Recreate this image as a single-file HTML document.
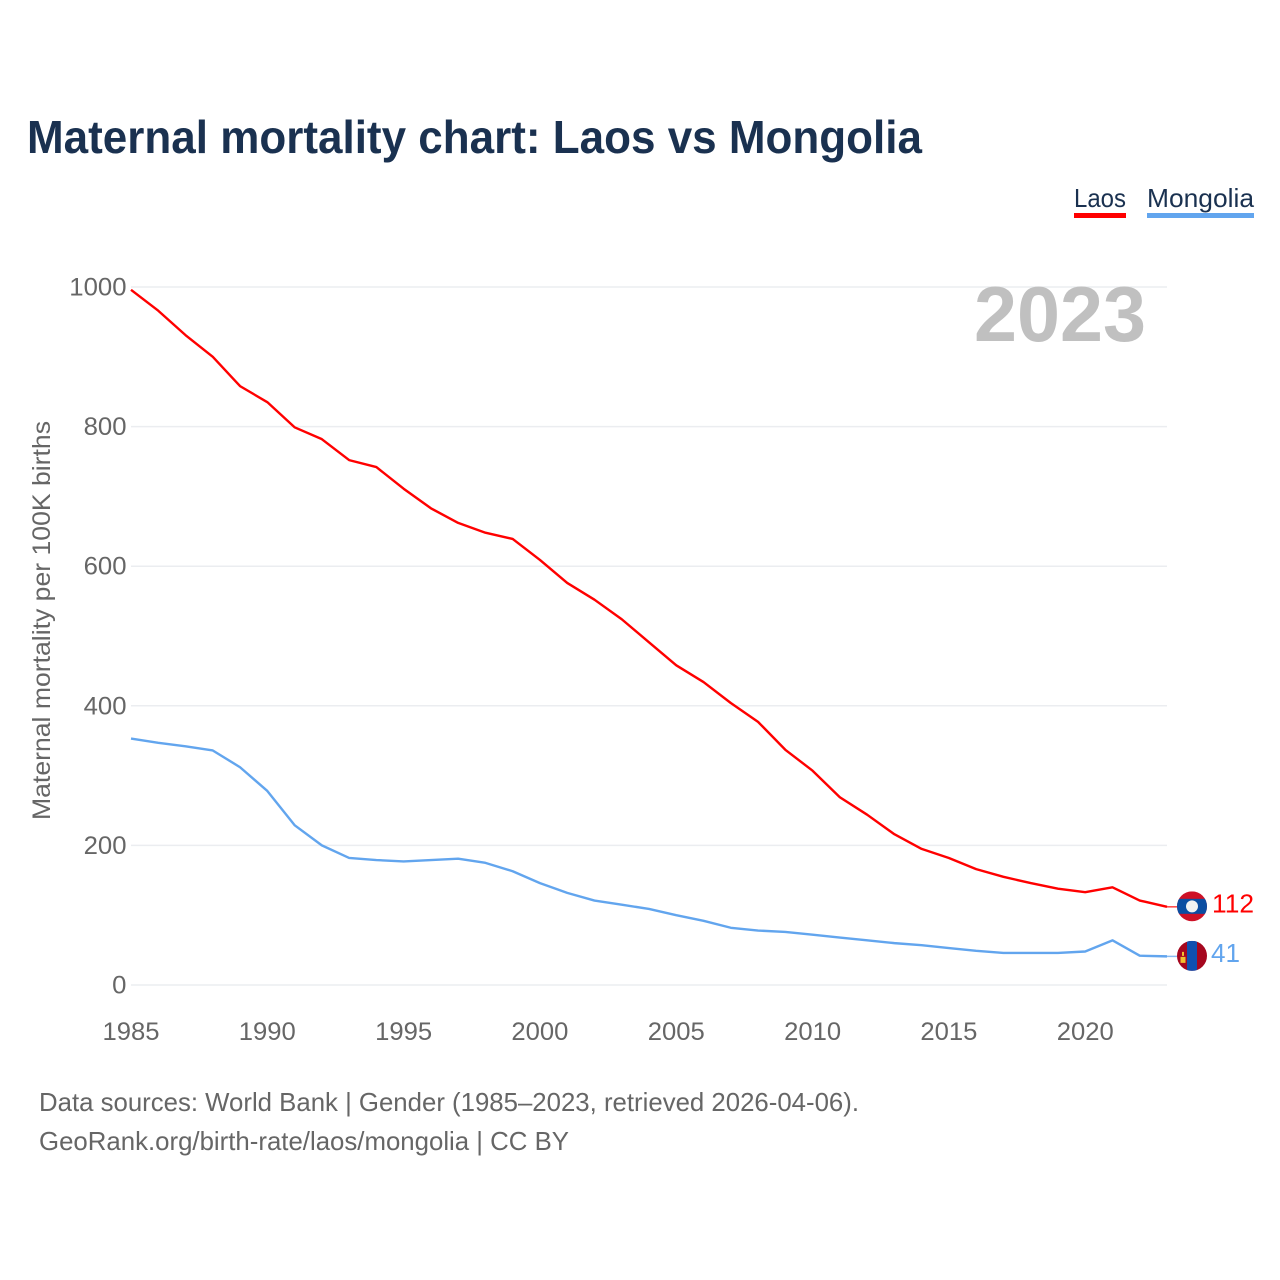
<!DOCTYPE html>
<html lang="en">
<head>
<meta charset="utf-8">
<title>Maternal mortality chart: Laos vs Mongolia</title>
<style>
html,body{margin:0;padding:0;background:#fff;width:1280px;height:1280px;overflow:hidden}
svg{display:block}
text{font-family:"Liberation Sans",sans-serif}
</style>
</head>
<body>
<svg id="chart" width="1280" height="1280" viewBox="0 0 1280 1280" xmlns="http://www.w3.org/2000/svg">
  <rect width="1280" height="1280" fill="#ffffff"/>
  <text x="27" y="153" font-size="46" font-weight="700" fill="#1a3150" textLength="895" lengthAdjust="spacingAndGlyphs">Maternal mortality chart: Laos vs Mongolia</text>

  <g>
    <g>
      <text x="1074" y="207" font-size="26" fill="#1a3150" textLength="52" lengthAdjust="spacingAndGlyphs">Laos</text>
      <rect x="1074" y="213" width="52" height="5" fill="#ff0000"/>
    </g>
    <g>
      <text x="1147" y="207" font-size="26" fill="#1a3150" textLength="107" lengthAdjust="spacingAndGlyphs">Mongolia</text>
      <rect x="1147" y="213" width="107" height="5" fill="#62a5ee"/>
    </g>
  </g>

  <g id="grid"></g>
  <g id="y-ticks"></g>
  <g id="x-ticks"></g>

  <text transform="translate(50,820) rotate(-90)" x="0" y="0" font-size="25" fill="#666666" textLength="399" lengthAdjust="spacingAndGlyphs">Maternal mortality per 100K births</text>

  <text x="974" y="341" font-size="78" font-weight="700" fill="#c0c0c0" textLength="172" lengthAdjust="spacingAndGlyphs">2023</text>

  <g id="series"></g>

  <defs>
    <clipPath id="laos-clip"><circle id="laos-clip-circle" r="15"/></clipPath>
    <clipPath id="mongolia-clip"><circle id="mongolia-clip-circle" r="15"/></clipPath>
  </defs>

  <g id="flag-laos" clip-path="url(#laos-clip)">
    <rect x="-15" y="-15" width="30" height="30" fill="#ce1126"/>
    <rect x="-15" y="-7.5" width="30" height="15" fill="#0b4ea2"/>
    <circle r="6" fill="#f2f2f2"/>
  </g>
  <g id="flag-mongolia" clip-path="url(#mongolia-clip)">
    <rect x="-15" y="-15" width="30" height="30" fill="#a5071f"/>
    <rect x="-5" y="-15" width="10" height="30" fill="#0f50b0"/>
    <rect x="-11.5" y="1" width="5" height="6" fill="#f0c030"/>
    <rect x="-10" y="-4" width="2" height="4" fill="#f0c030"/>
  </g>
  <text id="end-label-laos" x="1212" font-size="26" fill="#ff0000" textLength="42" lengthAdjust="spacingAndGlyphs"></text>
  <text id="end-label-mongolia" x="1211" font-size="26" fill="#62a5ee" textLength="29" lengthAdjust="spacingAndGlyphs"></text>

  <text x="39" y="1111" font-size="26" fill="#666666" textLength="820" lengthAdjust="spacingAndGlyphs">Data sources: World Bank | Gender (1985–2023, retrieved 2026-04-06).</text>
  <text x="39" y="1150" font-size="26" fill="#666666" textLength="530" lengthAdjust="spacingAndGlyphs">GeoRank.org/birth-rate/laos/mongolia | CC BY</text>
</svg>
<script>
const years = [1985,1986,1987,1988,1989,1990,1991,1992,1993,1994,1995,1996,1997,1998,1999,2000,2001,2002,2003,2004,2005,2006,2007,2008,2009,2010,2011,2012,2013,2014,2015,2016,2017,2018,2019,2020,2021,2022,2023];
const laosValues = [996,966,931,900,858,835,799,782,752,742,711,683,662,648,639,609,576,552,524,491,458,434,404,377,337,307,269,244,216,195,182,166,155,146,138,133,140,121,112];
const mongoliaValues = [353,347,342,336,312,278,229,200,182,179,177,179,181,175,163,146,132,121,115,109,100,92,82,78,76,72,68,64,60,57,53,49,46,46,46,48,64,42,41];
const yTickValues = [0,200,400,600,800,1000];
const xTickValues = [1985,1990,1995,2000,2005,2010,2015,2020];

const NS = 'http://www.w3.org/2000/svg';
const x0 = 131, x1 = 1167, y0 = 985, y1 = 287;
const xScale = v => x0 + (v - years[0]) / (years[years.length - 1] - years[0]) * (x1 - x0);
const yScale = v => y0 + v / 1000 * (y1 - y0);

function make(tag, attrs, parent) {
  const el = document.createElementNS(NS, tag);
  for (const k in attrs) el.setAttribute(k, attrs[k]);
  parent.appendChild(el);
  return el;
}

const grid = document.getElementById('grid');
const yTicks = document.getElementById('y-ticks');
yTickValues.forEach(v => {
  const line = make('line', {x1: x0, x2: x1, y1: yScale(v), y2: yScale(v), stroke: '#ebedf0', 'stroke-width': 1.5}, grid);
  
  
  const width = String(v).length * 14.3;
  const label = make('text', {x: 126.5 - width, y: yScale(v) + 8.5, 'font-size': 25, fill: '#666666', textLength: width, lengthAdjust: 'spacingAndGlyphs'}, yTicks);
  
  
  label.textContent = v;
});

const xTicks = document.getElementById('x-ticks');
xTickValues.forEach(v => {
  const label = make('text', {x: xScale(v) - 28.5, y: 1040, 'font-size': 25, fill: '#666666', textLength: 57, lengthAdjust: 'spacingAndGlyphs'}, xTicks);
  
  
  label.textContent = v;
});

const seriesGroup = document.getElementById('series');
function drawSeries(values, color, name) {
  const d = values.map((v, i) => (i ? 'L' : 'M') + xScale(years[i]).toFixed(2) + ' ' + yScale(v).toFixed(2)).join('');
  const path = make('path', {d: d, fill: 'none', stroke: color, 'stroke-width': 2.4, 'stroke-linejoin': 'round'}, seriesGroup);
  
  
  const lastY = yScale(values[values.length - 1]);
  const leader = make('line', {x1: x1, x2: 1177, y1: lastY, y2: lastY, stroke: color, 'stroke-width': 1.5, opacity: 0.75}, seriesGroup);
  
  
  return lastY;
}
const laosEndY = drawSeries(laosValues, '#ff0000', 'line-laos');
const mongoliaEndY = drawSeries(mongoliaValues, '#62a5ee', 'line-mongolia');

function placeEnd(flagId, labelId, y, value) {
  const cy = y - 0.5;
  document.getElementById(flagId).setAttribute('transform', 'translate(1192,' + cy + ')');
  const label = document.getElementById(labelId);
  label.setAttribute('y', cy + 6);
  label.textContent = value;
}
placeEnd('flag-laos', 'end-label-laos', laosEndY, laosValues[laosValues.length - 1]);
placeEnd('flag-mongolia', 'end-label-mongolia', mongoliaEndY, mongoliaValues[mongoliaValues.length - 1]);
</script>
</body>
</html>
